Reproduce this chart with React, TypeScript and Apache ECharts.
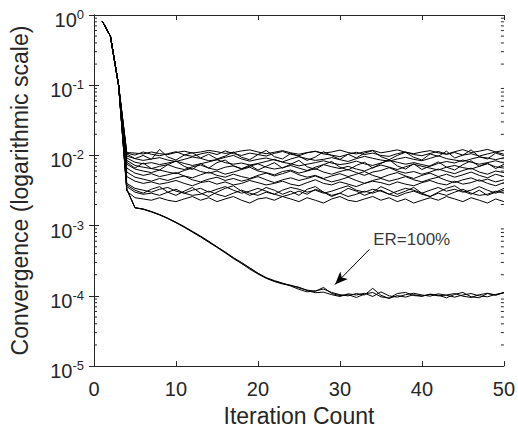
import React, { useEffect, useRef } from 'react';
import * as echarts from 'echarts';

// Iterations 1..3: shared initial descent of every run
const initialDescent = [0.82, 0.5, 0.1];

// Runs that stall (values for iterations 4..50)
const stalledRuns: number[][] = [
  [.0110, .0108, .0105, .0112, .0106, .0103, .0110, .0115, .0108, .0112, .0118, .0113, .0107, .0110, .0116, .0120, .0112, .0106, .0111, .0117, .0109, .0104, .0110, .0114, .0108, .0112, .0119, .0110, .0105, .0113, .0118, .0109, .0114, .0120, .0111, .0106, .0112, .0117, .0109, .0104, .0113, .0121, .0110, .0115, .0122, .0112, .0118],
  [.0105, .0090, .0100, .0088, .0122, .0095, .0086, .0101, .0110, .0092, .0104, .0089, .0098, .0112, .0094, .0087, .0103, .0118, .0096, .0089, .0107, .0097, .0085, .0095, .0113, .0099, .0088, .0104, .0092, .0108, .0117, .0096, .0087, .0100, .0111, .0094, .0086, .0105, .0097, .0115, .0092, .0101, .0120, .0096, .0089, .0108, .0099],
  [.0108, .0101, .0112, .0104, .0099, .0106, .0113, .0102, .0097, .0105, .0111, .0103, .0116, .0106, .0100, .0108, .0103, .0098, .0107, .0114, .0104, .0099, .0109, .0115, .0105, .0101, .0096, .0104, .0111, .0103, .0108, .0100, .0097, .0106, .0112, .0103, .0099, .0107, .0114, .0104, .0110, .0101, .0106, .0098, .0105, .0112, .0104],
  [.0098, .0090, .0085, .0089, .0093, .0086, .0082, .0088, .0095, .0091, .0084, .0087, .0094, .0100, .0089, .0083, .0088, .0092, .0086, .0081, .0089, .0096, .0090, .0085, .0088, .0093, .0087, .0082, .0090, .0097, .0091, .0086, .0083, .0089, .0094, .0088, .0084, .0091, .0099, .0090, .0086, .0082, .0089, .0095, .0092, .0087, .0093],
  [.0092, .0080, .0076, .0079, .0074, .0078, .0083, .0077, .0072, .0076, .0081, .0087, .0079, .0075, .0078, .0073, .0077, .0082, .0088, .0080, .0076, .0071, .0075, .0079, .0084, .0078, .0074, .0077, .0083, .0076, .0072, .0078, .0085, .0080, .0075, .0079, .0074, .0070, .0077, .0082, .0078, .0086, .0080, .0075, .0079, .0084, .0078],
  [.0080, .0066, .0078, .0065, .0062, .0074, .0083, .0070, .0063, .0077, .0066, .0079, .0086, .0071, .0064, .0073, .0062, .0070, .0079, .0066, .0075, .0085, .0069, .0063, .0074, .0082, .0068, .0062, .0072, .0080, .0066, .0077, .0087, .0071, .0064, .0076, .0063, .0071, .0081, .0068, .0062, .0074, .0084, .0070, .0078, .0065, .0075],
  [.0085, .0072, .0068, .0065, .0070, .0074, .0067, .0063, .0069, .0073, .0066, .0062, .0068, .0071, .0065, .0070, .0076, .0068, .0064, .0067, .0072, .0066, .0061, .0068, .0074, .0069, .0065, .0070, .0064, .0060, .0067, .0073, .0068, .0063, .0069, .0075, .0070, .0066, .0062, .0068, .0072, .0067, .0064, .0070, .0076, .0069, .0066],
  [.0075, .0064, .0060, .0057, .0062, .0058, .0055, .0061, .0066, .0059, .0056, .0060, .0054, .0058, .0063, .0068, .0060, .0057, .0053, .0059, .0062, .0056, .0060, .0065, .0058, .0054, .0059, .0063, .0057, .0052, .0058, .0061, .0067, .0060, .0056, .0059, .0054, .0058, .0064, .0059, .0055, .0061, .0066, .0058, .0054, .0060, .0057],
  [.0066, .0056, .0052, .0055, .0050, .0053, .0057, .0051, .0048, .0053, .0058, .0052, .0049, .0054, .0050, .0047, .0052, .0056, .0051, .0055, .0060, .0053, .0049, .0052, .0047, .0051, .0055, .0050, .0054, .0059, .0052, .0048, .0053, .0057, .0051, .0047, .0052, .0056, .0050, .0054, .0049, .0053, .0058, .0052, .0048, .0054, .0050],
  [.0058, .0049, .0046, .0043, .0047, .0044, .0048, .0051, .0045, .0042, .0046, .0049, .0044, .0047, .0043, .0046, .0050, .0045, .0041, .0045, .0048, .0044, .0047, .0051, .0046, .0042, .0045, .0049, .0044, .0040, .0044, .0047, .0043, .0046, .0050, .0045, .0042, .0046, .0049, .0044, .0041, .0045, .0048, .0043, .0046, .0042, .0045],
  [.0050, .0043, .0040, .0042, .0039, .0041, .0044, .0040, .0037, .0041, .0043, .0039, .0042, .0038, .0040, .0044, .0041, .0038, .0040, .0043, .0039, .0037, .0041, .0045, .0040, .0038, .0042, .0039, .0036, .0040, .0043, .0041, .0038, .0042, .0039, .0037, .0041, .0044, .0040, .0038, .0043, .0039, .0041, .0045, .0040, .0037, .0041],
  [.0038, .0032, .0029, .0033, .0036, .0030, .0027, .0031, .0035, .0029, .0026, .0030, .0034, .0037, .0031, .0027, .0030, .0035, .0032, .0028, .0031, .0027, .0033, .0036, .0030, .0026, .0029, .0034, .0031, .0027, .0030, .0036, .0032, .0028, .0031, .0035, .0029, .0026, .0030, .0034, .0037, .0031, .0028, .0032, .0027, .0030, .0034],
  [.0040, .0034, .0032, .0030, .0033, .0035, .0031, .0029, .0032, .0034, .0030, .0033, .0036, .0032, .0029, .0031, .0034, .0031, .0028, .0032, .0035, .0033, .0030, .0032, .0029, .0031, .0034, .0037, .0032, .0030, .0033, .0031, .0028, .0031, .0034, .0032, .0029, .0032, .0035, .0031, .0033, .0030, .0032, .0036, .0032, .0029, .0032],
  [.0036, .0030, .0028, .0029, .0027, .0030, .0033, .0029, .0027, .0028, .0031, .0028, .0026, .0029, .0032, .0029, .0027, .0030, .0028, .0026, .0028, .0031, .0028, .0033, .0030, .0027, .0029, .0026, .0028, .0031, .0029, .0032, .0028, .0026, .0029, .0031, .0028, .0026, .0029, .0027, .0030, .0033, .0029, .0027, .0028, .0031, .0029],
  [.0031, .0025, .0024, .0023, .0025, .0023, .0022, .0024, .0026, .0023, .0025, .0022, .0024, .0026, .0023, .0021, .0024, .0025, .0023, .0026, .0024, .0022, .0025, .0023, .0021, .0024, .0026, .0023, .0022, .0024, .0026, .0023, .0025, .0022, .0024, .0021, .0023, .0025, .0023, .0026, .0024, .0022, .0025, .0023, .0021, .0024, .0022],
];

// Runs with ER=100% that keep converging (iterations 4..50)
const convergedRuns: number[][] = [
  [.0033, .0018, .00172, .00158, .00143, .00127, .00111, .00096, .00082, .0007, .00059, .0005, .00042, .00035, .00029, .00025, .00021, .00018, .000162, .00015, .000142, .00013, .000121, .000116, .000132, .000108, .000101, .000104, .000095, .000106, .000112, .000097, .000093, .000108, .000112, .000101, .000099, .000106, .000102, .000094, .000105, .000112, .000097, .000094, .000108, .000102, .000112],
  [.0033, .0018, .00171, .00157, .00142, .00126, .0011, .00095, .00081, .00069, .00058, .00049, .00041, .00034, .00029, .00024, .000205, .000178, .00016, .000148, .00014, .000133, .000119, .000111, .000113, .000104, .000098, .000107, .000103, .000109, .000098, .000114, .0001, .000096, .000104, .000109, .000103, .000099, .000107, .000102, .000096, .000103, .000108, .0001, .000097, .000105, .00011],
  [.0033, .0018, .00173, .00159, .00144, .00128, .00112, .00097, .00083, .00071, .0006, .0005, .00042, .00035, .0003, .00025, .00021, .000182, .000165, .000152, .000138, .000124, .000114, .000118, .000125, .000112, .000104, .0001, .000108, .000103, .000128, .000102, .000092, .000101, .000096, .000104, .000099, .000105, .0001, .000103, .000108, .000099, .000095, .000104, .000109, .000103, .000112],
];

const xMin = 0;
const xMax = 50;
const xInterval = 10;
const yMin = 1e-5;
const yMax = 1;
const minorMultipliers = [2, 3, 4, 5, 6, 7, 8, 9];
const minorDecades = [1e-5, 1e-4, 1e-3, 1e-2, 1e-1];

const annotationText = 'ER=100%';
const arrowStart: [number, number] = [33.6, 4.6e-4];
const arrowEnd: [number, number] = [29.4, 1.45e-4];
const labelAnchor: [number, number] = [34.0, 6.4e-4];

const xTitle = 'Iteration Count';
const yTitle = 'Convergence (logarithmic scale)';

const FONT = '"Liberation Sans", Arial, Helvetica, sans-serif';
const AXIS = '#262626';

function toPoints(tail: number[]): [number, number][] {
  const vals = initialDescent.concat(tail);
  return vals.map((v, i) => [i + 1, v]);
}

export default function App() {
  const ref = useRef<HTMLDivElement>(null);
  useEffect(() => {
    document.body.style.margin = '0';
    if (!ref.current) return;
    const chart = echarts.init(ref.current, undefined, { renderer: 'svg' });

    const minorTicks: [number, number][] = [];
    minorDecades.forEach((d) => minorMultipliers.forEach((m) => minorTicks.push([xMin, m * d])));

    const lineSeries = [...stalledRuns, ...convergedRuns].map((tail, i) => ({
      type: 'line',
      name: 'run' + i,
      data: toPoints(tail),
      showSymbol: false,
      symbol: 'none',
      lineStyle: { color: '#000', width: 1 },
      silent: true,
      z: 3,
      ...(i === stalledRuns.length
        ? {
            markLine: {
              silent: true,
              symbol: ['none', 'arrow'],
              symbolSize: [8, 13],
              label: { show: false },
              lineStyle: { color: '#000', width: 1, type: 'solid' },
              data: [[{ coord: arrowStart }, { coord: arrowEnd }]],
            },
          }
        : {}),
    }));

    const yLabel = {
      formatter: (v: number) => {
        const e = Math.round(Math.log10(v));
        return `{b|10}{s|${e}}`;
      },
      margin: 10,
      padding: [10, 0, 0, 0],
      rich: {
        b: { fontSize: 20, fontFamily: FONT, color: AXIS, lineHeight: 24 },
        s: { fontSize: 13, fontFamily: FONT, color: AXIS, lineHeight: 14, verticalAlign: 'top' },
      },
    };

    chart.setOption({
      animation: false,
      backgroundColor: '#fff',
      grid: { left: 93.5, right: 12, top: 15, bottom: 63, containLabel: false },
      xAxis: [
        {
          type: 'value',
          min: xMin,
          max: xMax,
          interval: xInterval,
          name: xTitle,
          nameLocation: 'middle',
          nameGap: 31,
          nameTextStyle: { fontSize: 23, fontFamily: FONT, color: AXIS },
          axisLine: { show: true, lineStyle: { color: AXIS, width: 1 } },
          axisTick: { show: true, inside: true, length: 5, lineStyle: { color: AXIS } },
          axisLabel: { fontSize: 20, fontFamily: FONT, color: AXIS, margin: 13 },
          splitLine: { show: false },
        },
        {
          type: 'value',
          position: 'top',
          min: xMin,
          max: xMax,
          interval: xInterval,
          axisLine: { show: true, lineStyle: { color: AXIS, width: 1 } },
          axisTick: { show: true, inside: true, length: 5, lineStyle: { color: AXIS } },
          axisLabel: { show: false },
          splitLine: { show: false },
        },
      ],
      yAxis: [
        {
          type: 'log',
          logBase: 10,
          min: yMin,
          max: yMax,
          splitNumber: 5,
          name: yTitle,
          nameLocation: 'middle',
          nameGap: 63,
          nameRotate: 90,
          nameTextStyle: { fontSize: 23, fontFamily: FONT, color: AXIS },
          axisLine: { show: true, lineStyle: { color: AXIS, width: 1 } },
          axisTick: { show: true, inside: true, length: 5, lineStyle: { color: AXIS } },
          axisLabel: yLabel,
          splitLine: { show: false },
          minorTick: { show: false },
        },
        {
          type: 'log',
          logBase: 10,
          min: yMin,
          max: yMax,
          splitNumber: 5,
          position: 'right',
          axisLine: { show: true, lineStyle: { color: AXIS, width: 1 } },
          axisTick: { show: true, inside: true, length: 5, lineStyle: { color: AXIS } },
          axisLabel: { show: false },
          splitLine: { show: false },
        },
      ],
      series: [
        ...lineSeries,
        {
          type: 'custom',
          silent: true,
          clip: false,
          z: 5,
          data: minorTicks,
          renderItem: (_params: any, api: any) => {
            const v = api.value(1);
            const l = api.coord([xMin, v]);
            const r = api.coord([xMax, v]);
            const style = { stroke: AXIS, lineWidth: 1 };
            return {
              type: 'group',
              children: [
                { type: 'line', shape: { x1: l[0], y1: l[1], x2: l[0] + 3, y2: l[1] }, style },
                { type: 'line', shape: { x1: r[0], y1: r[1], x2: r[0] - 3, y2: r[1] }, style },
              ],
            };
          },
        },
        {
          type: 'scatter',
          silent: true,
          symbolSize: 1,
          itemStyle: { color: 'rgba(0,0,0,0)' },
          data: [labelAnchor],
          z: 6,
          label: {
            show: true,
            position: 'right',
            distance: 0,
            formatter: annotationText,
            fontSize: 17,
            fontFamily: FONT,
            color: '#000',
          },
        },
      ],
    });
    return () => chart.dispose();
  }, []);
  return <div ref={ref} style={{ width: 518, height: 432 }} />;
}
